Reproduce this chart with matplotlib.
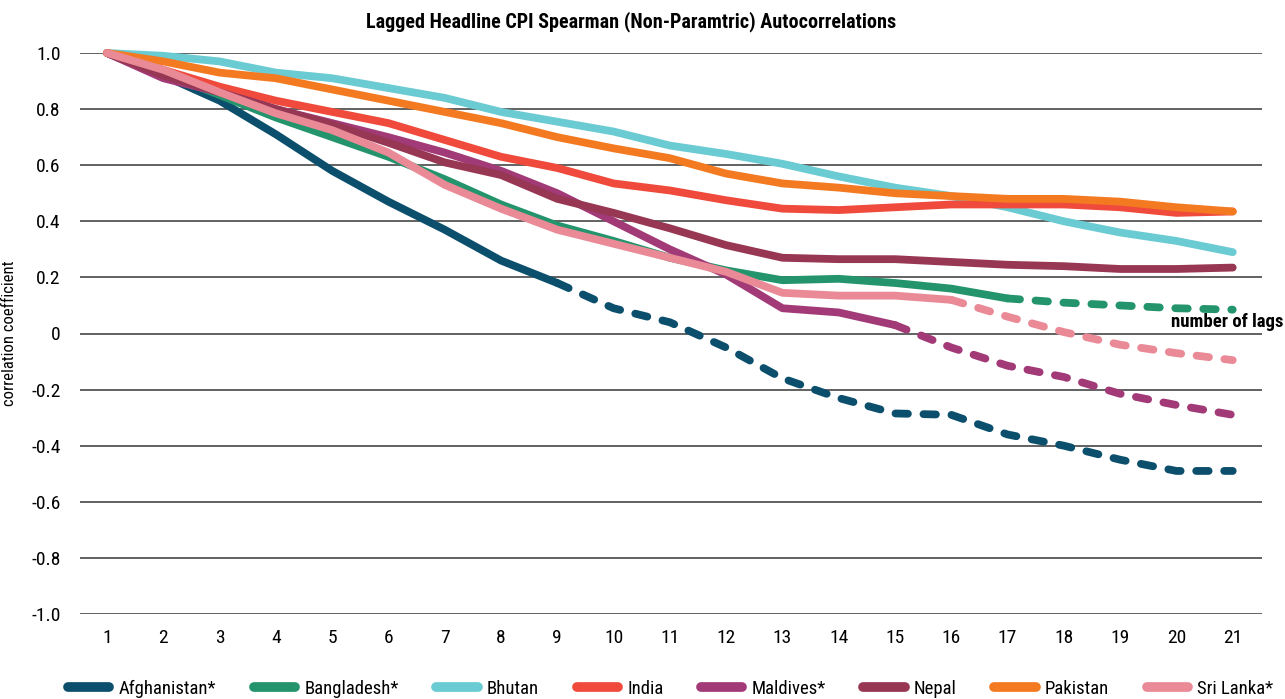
import matplotlib
matplotlib.use("Agg")
import matplotlib.pyplot as plt
from matplotlib import font_manager
from matplotlib.lines import Line2D
import numpy as np

# pick a narrow face if one is installed
names = {f.name for f in font_manager.fontManager.ttflist}
narrow = [f for f in font_manager.fontManager.ttflist
          if f.stretch in ('condensed', 'semi-condensed', 'extra-condensed') or
          'Narrow' in f.name or 'Condensed' in f.name]
fam = 'DejaVu Sans'
for cand in ['Roboto Condensed', 'Liberation Sans Narrow', 'Open Sans Condensed']:
    if cand in names:
        fam = cand
        break
else:
    if any(f.name == 'DejaVu Sans' for f in narrow):
        plt.rcParams['font.stretch'] = 'condensed'
    elif narrow:
        fam = narrow[0].name
        plt.rcParams['font.stretch'] = narrow[0].stretch
plt.rcParams['font.family'] = [fam, 'DejaVu Sans']

lags = list(range(1, 22))

afghanistan = [1.0, 0.92, 0.83, 0.71, 0.58, 0.47, 0.37, 0.26, 0.18, 0.09, 0.04, -0.05,
               -0.16, -0.23, -0.285, -0.29, -0.36, -0.40, -0.45, -0.49, -0.49]
bangladesh = [1.0, 0.93, 0.85, 0.77, 0.70, 0.63, 0.55, 0.46, 0.385, 0.33, 0.27, 0.225,
              0.19, 0.195, 0.18, 0.16, 0.125, 0.11, 0.10, 0.09, 0.085]
bhutan = [1.0, 0.99, 0.97, 0.93, 0.91, 0.875, 0.84, 0.79, 0.755, 0.72, 0.67, 0.64,
          0.605, 0.56, 0.52, 0.49, 0.45, 0.40, 0.36, 0.33, 0.29]
india = [1.0, 0.94, 0.88, 0.83, 0.79, 0.75, 0.69, 0.63, 0.59, 0.535, 0.51, 0.475,
         0.445, 0.44, 0.45, 0.46, 0.46, 0.46, 0.45, 0.43, 0.435]
maldives = [1.0, 0.91, 0.86, 0.80, 0.75, 0.70, 0.645, 0.58, 0.50, 0.40, 0.30, 0.21,
            0.09, 0.075, 0.03, -0.05, -0.115, -0.155, -0.215, -0.255, -0.29]
nepal = [1.0, 0.92, 0.86, 0.80, 0.745, 0.68, 0.61, 0.565, 0.48, 0.43, 0.375, 0.315,
         0.27, 0.265, 0.265, 0.255, 0.245, 0.24, 0.23, 0.23, 0.235]
pakistan = [1.0, 0.97, 0.93, 0.91, 0.87, 0.83, 0.79, 0.75, 0.70, 0.66, 0.625, 0.57,
            0.535, 0.52, 0.50, 0.49, 0.48, 0.48, 0.47, 0.45, 0.435]
sri_lanka = [1.0, 0.94, 0.86, 0.785, 0.725, 0.645, 0.53, 0.445, 0.37, 0.32, 0.27, 0.22,
             0.145, 0.135, 0.135, 0.12, 0.06, 0.005, -0.04, -0.07, -0.095]

# name, values, colour, last solid lag (rest dashed)
series = [
    ("Afghanistan*", afghanistan, "#0b4f6c", 9),
    ("Bangladesh*", bangladesh, "#24946c", 17),
    ("Bhutan", bhutan, "#6acbd2", 21),
    ("India", india, "#ef4a3b", 21),
    ("Maldives*", maldives, "#a23a77", 15),
    ("Nepal", nepal, "#973753", 21),
    ("Pakistan", pakistan, "#f47a22", 21),
    ("Sri Lanka*", sri_lanka, "#e98a96", 16),
]

fig = plt.figure(figsize=(12.85, 6.99), dpi=100)
ax = fig.add_axes([80/1285, 1-614/699, 1182/1285, 561/699])

lw = 5.6
x = np.array(lags)
for name, vals, col, cut in series:
    v = np.array(vals)
    ax.plot(x[:cut], v[:cut], color=col, lw=lw, solid_capstyle='round',
            solid_joinstyle='round', clip_on=False)
    if cut < len(x):
        ax.plot(x[cut-1:], v[cut-1:], color=col, lw=lw, linestyle=(0, (1.6, 2.0)),
                dash_capstyle='round', dash_joinstyle='round', clip_on=False)

ax.set_xlim(0.52, 21.52)
ax.set_ylim(-1.0, 1.0)
yt = np.arange(-1.0, 1.01, 0.2)
ax.set_yticks(yt)
ax.set_yticklabels(["0" if abs(t) < 1e-9 else f"{t:.1f}" for t in yt])
ax.set_xticks(lags)
ax.set_xticklabels([str(l) for l in lags])
for t in yt:
    ax.axhline(t, color="#555555", lw=1.3, zorder=0)
for s in ax.spines.values():
    s.set_visible(False)
ax.tick_params(axis='both', length=0, labelsize=14)
ax.tick_params(axis='y', pad=14)
ax.tick_params(axis='x', pad=11)
ax.set_ylabel("correlation coefficient", fontsize=12)
ax.yaxis.set_label_coords(-0.053, 0.5)

fig.text(0.491, 0.969, "Lagged Headline CPI Spearman (Non-Paramtric) Autocorrelations",
         ha='center', va='center', fontsize=14.5, fontweight='bold')
fig.text(1171/1285, 1-322/699, "number of lags", ha='left', va='center',
         fontsize=13.5, fontweight='bold')

handles = [Line2D([0], [0], color=c, lw=7, solid_capstyle='round') for _, _, c, _ in series]
labels = [n for n, _, _, _ in series]
fig.legend(handles, labels, loc='center', bbox_to_anchor=(0.522, 1-689/699), ncol=8,
           frameon=False, fontsize=13.5, handlelength=2.2, handletextpad=0.5,
           columnspacing=2.0)

fig.savefig("out.png", dpi=100)
